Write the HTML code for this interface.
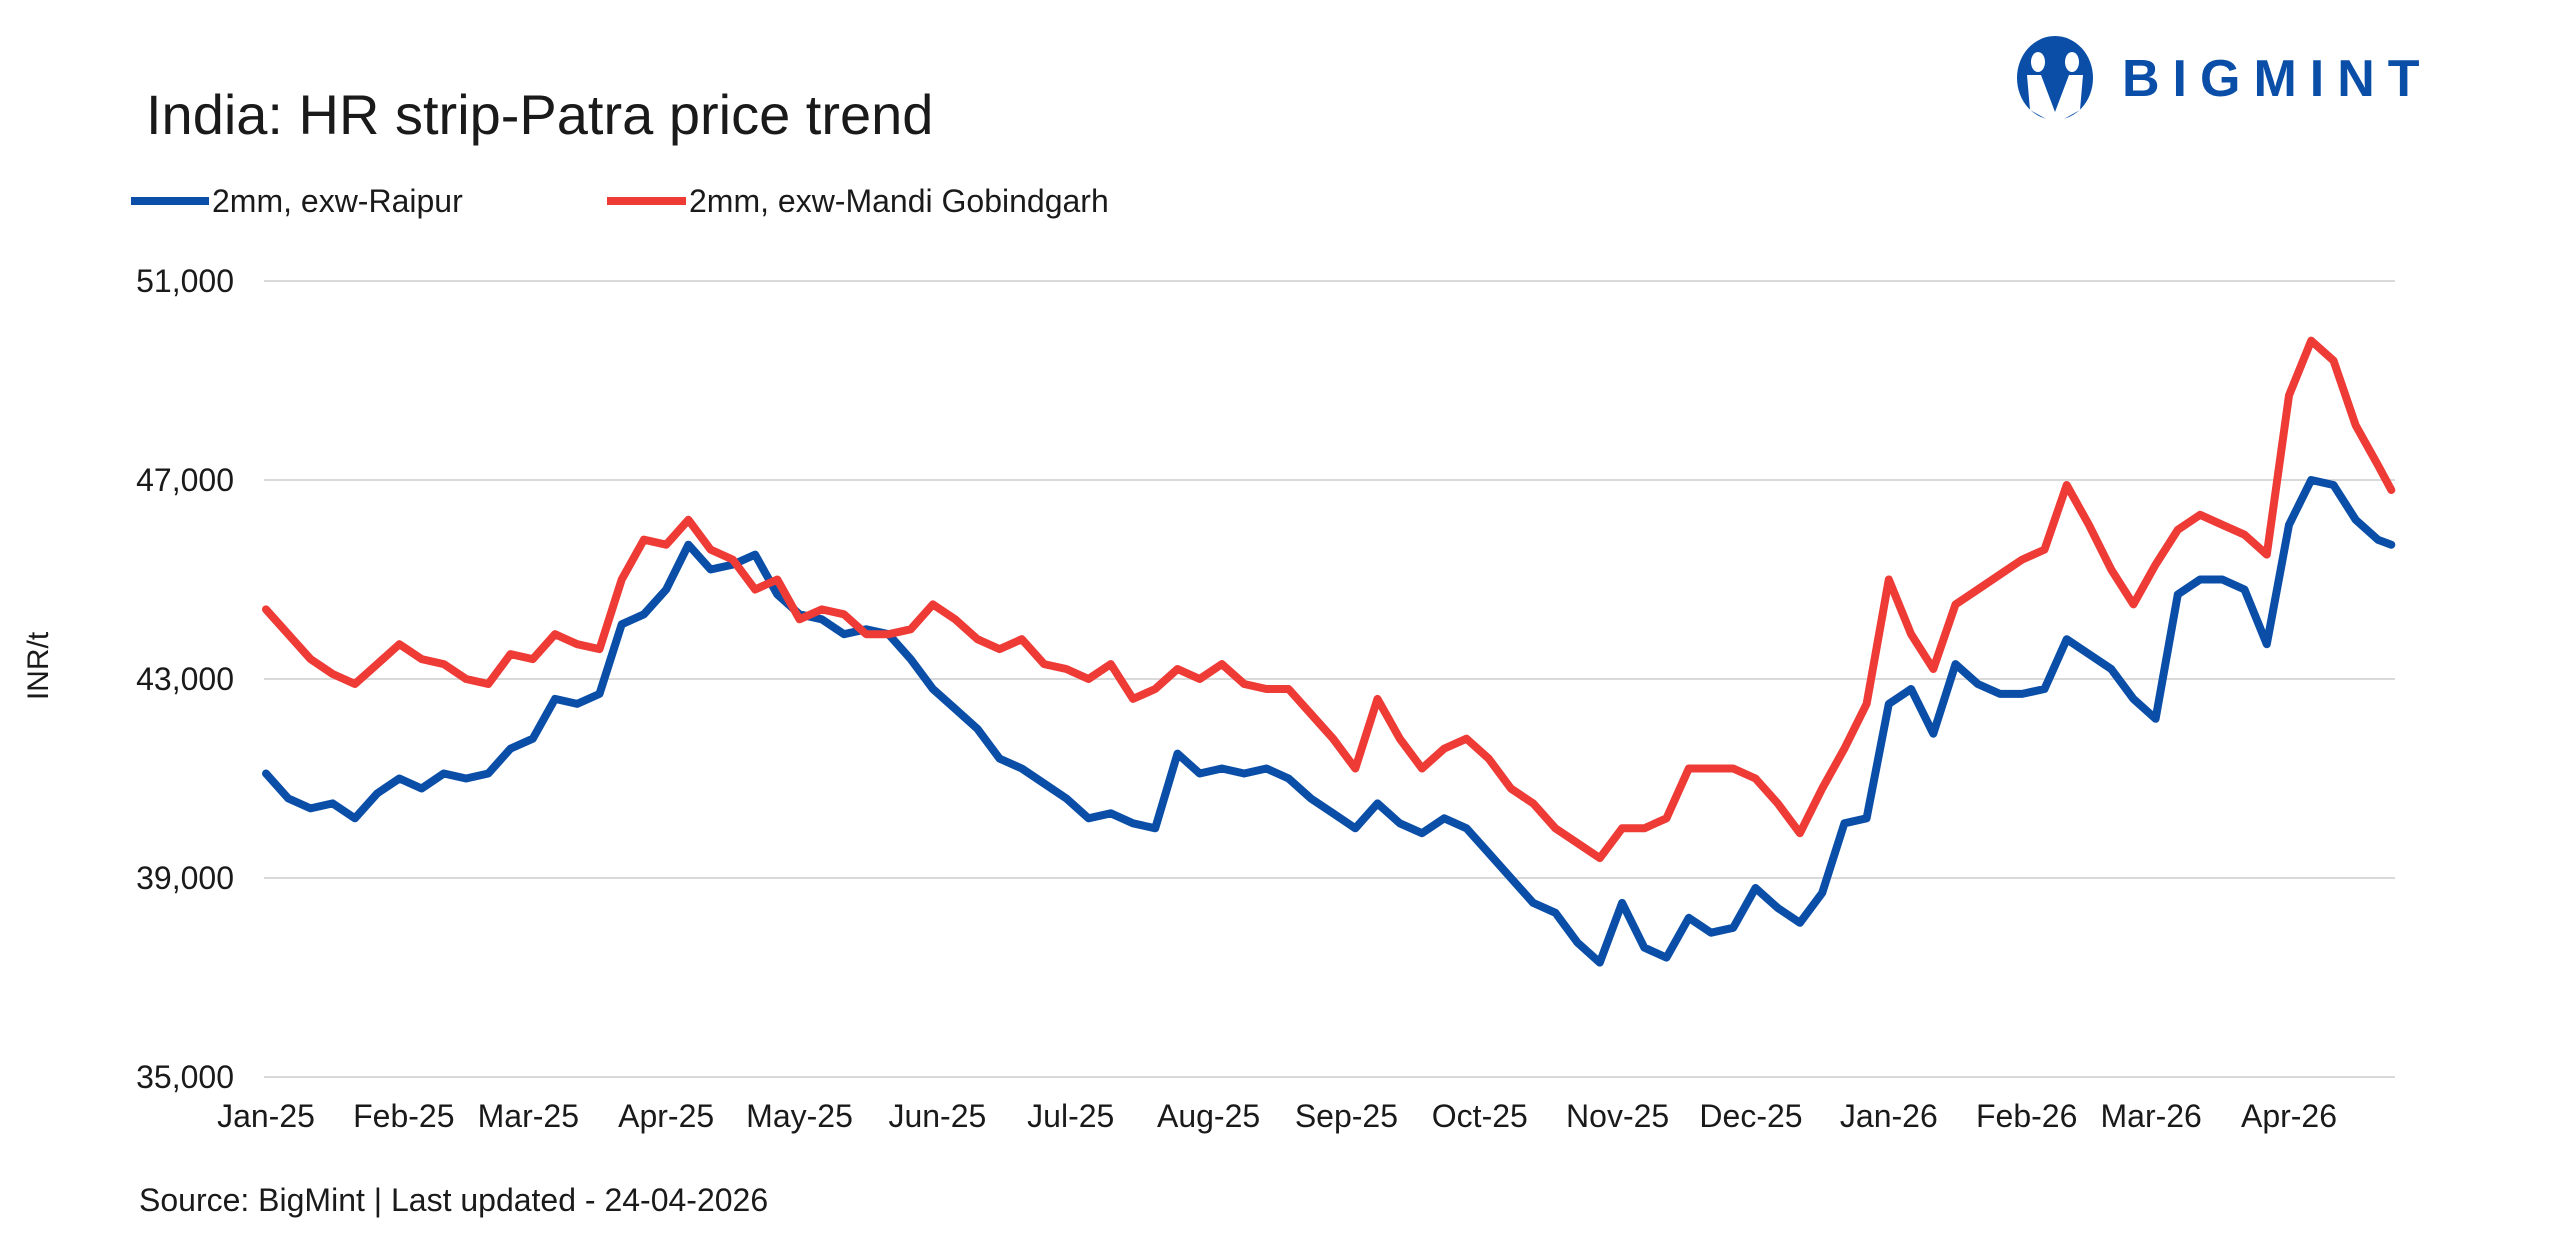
<!DOCTYPE html>
<html><head><meta charset="utf-8"><style>
html,body{margin:0;padding:0;background:#fff;}
svg{display:block;font-family:"Liberation Sans",Arial,sans-serif;}
</style></head><body>
<svg id="chart" width="2560" height="1255" viewBox="0 0 2560 1255" xmlns="http://www.w3.org/2000/svg">
<rect width="2560" height="1255" fill="#fff"/>
<text x="146" y="134" font-size="56" fill="#1a1a1a">India: HR strip-Patra price trend</text>
<g>
  <ellipse cx="2055" cy="78" rx="38" ry="42" fill="#0a4ea8"/>
  <ellipse cx="2038" cy="62" rx="7" ry="10" fill="#fff"/>
  <ellipse cx="2072" cy="62" rx="7" ry="10" fill="#fff"/>
  <path d="M2027 75 L2041 75 L2055 112 L2069 75 L2083 75 L2080 110 L2062 120 L2048 120 L2030 110 Z" fill="#fff"/>
  <text x="2122" y="96" font-size="52" font-weight="bold" fill="#0a4ea8" letter-spacing="13">BIGMINT</text>
</g>
<g>
  <line x1="131" y1="201" x2="209" y2="201" stroke="#0a4ea8" stroke-width="8"/>
  <text x="212" y="212" font-size="32" fill="#1a1a1a">2mm, exw-Raipur</text>
  <line x1="607" y1="201" x2="686" y2="201" stroke="#ee3b36" stroke-width="8"/>
  <text x="689" y="212" font-size="32" fill="#1a1a1a">2mm, exw-Mandi Gobindgarh</text>
</g>
<text transform="translate(48,666) rotate(-90)" text-anchor="middle" font-size="30" fill="#1a1a1a">INR/t</text>
<g id="grid"></g>
<g id="yticks"></g>
<g id="xticks"></g>
<g id="series"></g>
<text x="139" y="1211" font-size="32" fill="#1a1a1a">Source: BigMint  | Last updated - 24-04-2026</text>
</svg>
<script>
const yTicks = [35000, 39000, 43000, 47000, 51000];
const xTickLabels = ["Jan-25","Feb-25","Mar-25","Apr-25","May-25","Jun-25","Jul-25","Aug-25","Sep-25","Oct-25","Nov-25","Dec-25","Jan-26","Feb-26","Mar-26","Apr-26"];
const xTickDates = ["2025-01-01","2025-02-01","2025-03-01","2025-04-01","2025-05-01","2025-06-01","2025-07-01","2025-08-01","2025-09-01","2025-10-01","2025-11-01","2025-12-01","2026-01-01","2026-02-01","2026-03-01","2026-04-01"];
// day offsets from 2025-01-01
const days = [0,5,10,15,20,25,30,35,40,45,50,55,60,65,70,75,80,85,90,95,100,105,110,115,120,125,130,135,140,145,150,155,160,165,170,175,180,185,190,195,200,205,210,215,220,225,230,235,240,245,250,255,260,265,270,275,280,285,290,295,300,305,310,315,320,325,330,335,340,345,350,355,360,365,370,375,380,385,390,395,400,405,410,415,420,425,430,435,440,445,450,455,460,465,470,475,478];
const raipur = [41100,40600,40400,40500,40200,40700,41000,40800,41100,41000,41100,41600,41800,42600,42500,42700,44100,44300,44800,45700,45200,45300,45500,44700,44300,44200,43900,44000,43900,43400,42800,42400,42000,41400,41200,40900,40600,40200,40300,40100,40000,41500,41100,41200,41100,41200,41000,40600,40300,40000,40500,40100,39900,40200,40000,39500,39000,38500,38300,37700,37300,38500,37600,37400,38200,37900,38000,38800,38400,38100,38700,40100,40200,42500,42800,41900,43300,42900,42700,42700,42800,43800,43500,43200,42600,42200,44700,45000,45000,44800,43700,46100,47000,46900,46200,45800,45700];
const mandi = [44400,43900,43400,43100,42900,43300,43700,43400,43300,43000,42900,43500,43400,43900,43700,43600,45000,45800,45700,46200,45600,45400,44800,45000,44200,44400,44300,43900,43900,44000,44500,44200,43800,43600,43800,43300,43200,43000,43300,42600,42800,43200,43000,43300,42900,42800,42800,42300,41800,41200,42600,41800,41200,41600,41800,41400,40800,40500,40000,39700,39400,40000,40000,40200,41200,41200,41200,41000,40500,39900,40800,41600,42500,45000,43900,43200,44500,44800,45100,45400,45600,46900,46100,45200,44500,45300,46000,46300,46100,45900,45500,48700,49800,49400,48100,47300,46800];

const NS = "http://www.w3.org/2000/svg";
const X0 = 266, PXD = (2289 - 266) / 455, PLOT_L = 264, PLOT_R = 2395;
function xScale(d){ return X0 + d * PXD; }
function yScale(v){ return 1077 - (v - 35000) * 199 / 4000; }
function dayOf(s){ return Math.round((Date.parse(s) - Date.parse("2025-01-01")) / 86400000); }
function mk(tag, attrs, parent){ const e = document.createElementNS(NS, tag); for (const k in attrs) e.setAttribute(k, attrs[k]); parent.appendChild(e); return e; }

const grid = document.getElementById('grid'), yt = document.getElementById('yticks'), xt = document.getElementById('xticks'), ser = document.getElementById('series');
yTicks.forEach(v => {
  const l = mk('line', {x1: PLOT_L, x2: PLOT_R, y1: yScale(v), y2: yScale(v), stroke: '#d9d9d9', 'stroke-width': 2}, grid);
  
  
  const t = mk('text', {x: 234, y: yScale(v) + 11, 'text-anchor': 'end', 'font-size': 32, fill: '#1a1a1a'}, yt);
  t.textContent = v.toLocaleString('en-US');
  
  
});
xTickLabels.forEach((lab, i) => {
  const t = mk('text', {x: xScale(dayOf(xTickDates[i])), y: 1127, 'text-anchor': 'middle', 'font-size': 32, fill: '#1a1a1a'}, xt);
  t.textContent = lab;
  
  
});
function drawLine(vals, color, name){
  const d = vals.map((v, i) => (i ? 'L' : 'M') + xScale(days[i]).toFixed(1) + ' ' + yScale(v).toFixed(1)).join(' ');
  const p = mk('path', {d: d, fill: 'none', stroke: color, 'stroke-width': 8, 'stroke-linejoin': 'round', 'stroke-linecap': 'round'}, ser);
  
  
}
drawLine(raipur, '#0a4ea8', 'line-raipur');
drawLine(mandi, '#ee3b36', 'line-mandi-gobindgarh');
</script>
</body></html>
